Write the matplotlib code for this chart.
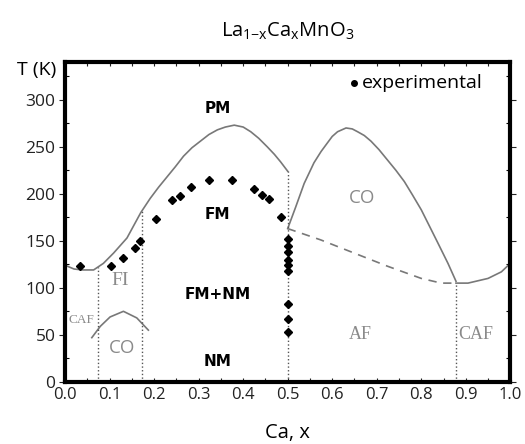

# La(1-x)Ca(x)MnO3 phase diagram
import numpy as np
import matplotlib
matplotlib.use('Agg')
import matplotlib.pyplot as plt

plt.rcParams['font.family'] = ['Open Sans', 'DejaVu Sans']
plt.rcParams['mathtext.default'] = 'regular'

# PM / FM boundary (solid)
pm_x = [0.0, 0.02, 0.04, 0.064, 0.086, 0.109, 0.139, 0.17, 0.191, 0.21,
        0.229, 0.248, 0.266, 0.285, 0.304, 0.323, 0.342, 0.36, 0.38, 0.40,
        0.417, 0.435, 0.454, 0.47, 0.484, 0.5]
pm_T = [124, 120, 119, 119, 126, 137, 153, 180, 195, 207,
        218, 229, 240, 249, 256, 263, 268, 271, 273, 271,
        266, 259, 250, 242, 234, 224]

# charge-ordered dome, x > 0.5 (solid)
co_x = [0.5, 0.518, 0.537, 0.559, 0.575, 0.589, 0.60, 0.612, 0.631, 0.645,
        0.657, 0.672, 0.687, 0.705, 0.724, 0.743, 0.762, 0.78, 0.80, 0.818,
        0.837, 0.86, 0.878]
co_T = [163, 186, 211, 233, 245, 254, 261, 266, 270, 269,
        266, 262, 256, 247, 236, 225, 213, 199, 183, 166,
        148, 126, 107]

# AF boundary (dashed)
af_x = [0.5, 0.574, 0.649, 0.724, 0.8, 0.845, 0.878]
af_T = [163, 151, 137, 123, 110, 105, 105]

# CAF boundary, right side
caf_x = [0.878, 0.905, 0.95, 0.98, 1.0]
caf_T = [105, 105, 110, 117, 126]

# small CO dome, low x
co2_x = [0.06, 0.079, 0.101, 0.131, 0.161, 0.187]
co2_T = [47, 59, 69, 75, 68, 55]

# dotted phase separators
sep_x = [0.075, 0.173, 0.5, 0.878]

# experimental points
exp_x = [0.033, 0.102, 0.131, 0.158, 0.169, 0.204, 0.241, 0.258, 0.283, 0.323,
         0.375, 0.424, 0.443, 0.457, 0.486, 0.5, 0.5, 0.5, 0.5, 0.5, 0.5, 0.5,
         0.5, 0.5]
exp_T = [123, 123, 132, 142, 150, 173, 193, 198, 207, 215,
         215, 205, 199, 194, 175, 152, 145, 138, 130, 124, 118, 83,
         67, 53]

fig = plt.figure(figsize=(5.25, 4.44), dpi=100)
ax = fig.add_axes([0.124, 0.14, 0.848, 0.72])

line_c = '#787878'
ax.plot(pm_x, pm_T, color=line_c, lw=1.2)
ax.plot(co_x, co_T, color=line_c, lw=1.2)
ax.plot(af_x, af_T, color=line_c, lw=1.2, ls=(0, (5, 4)))
ax.plot(caf_x, caf_T, color=line_c, lw=1.2)
ax.plot(co2_x, co2_T, color=line_c, lw=1.2)

# dotted verticals end on the boundary curves
sep_top = [np.interp(sep_x[0], pm_x, pm_T), np.interp(sep_x[1], pm_x, pm_T),
           pm_T[-1], af_T[-1]]
for xs, top in zip(sep_x, sep_top):
    ax.plot([xs, xs], [0, top], color='#555555', lw=1, ls=':')

ax.plot(exp_x, exp_T, 'D', color='black', ms=3.8)

# legend
ax.plot([0.65], [318], 'o', color='black', ms=4)
ax.text(0.666, 318, 'experimental', fontsize=14, va='center', ha='left')

# region labels
bold = dict(fontsize=11, fontweight='bold', ha='center', va='center',
            family=['DejaVu Sans'])
ax.text(0.342, 291, 'PM', **bold)
ax.text(0.342, 178, 'FM', **bold)
ax.text(0.342, 93, 'FM+NM', **bold)
ax.text(0.342, 22, 'NM', **bold)

grey = '#8a8a8a'
serif = ['Liberation Serif', 'DejaVu Serif']
ax.text(0.668, 196, 'CO', fontsize=13.5, color=grey, ha='center', va='center')
ax.text(0.128, 36, 'CO', fontsize=13.5, color=grey, ha='center', va='center')
ax.text(0.124, 108, 'FI', fontsize=14, color=grey, ha='center', va='center',
        family=serif)
ax.text(0.037, 66, 'CAF', fontsize=9.5, color=grey, ha='center', va='center',
        family=serif)
ax.text(0.664, 50, 'AF', fontsize=13, color=grey, ha='center', va='center',
        family=serif)
ax.text(0.922, 50, 'CAF', fontsize=13, color=grey, ha='center', va='center',
        family=serif)

ax.set_xlim(0, 1.0)
ax.set_ylim(0, 340)
ax.set_xticks(np.arange(0, 1.01, 0.1))
ax.set_xticks(np.arange(0, 1.01, 0.05), minor=True)
ax.set_xticklabels(['%.1f' % v for v in np.arange(0, 1.01, 0.1)])
ax.set_yticks(np.arange(0, 301, 50))
ax.set_yticks(np.arange(0, 340, 25), minor=True)

ax.tick_params(axis='x', which='both', direction='in', top=True, bottom=True,
               length=3, width=0.8, labelsize=12, pad=4, colors='#222222')
ax.tick_params(axis='y', which='major', direction='out', left=True, right=True,
               length=4, width=0.8, labelsize=12.5, pad=3, colors='#222222')
ax.tick_params(axis='y', which='minor', direction='in', left=True, right=True,
               length=3, width=0.8)

for s in ax.spines.values():
    s.set_linewidth(3)

ax.set_title('La$_{1{-}x}$Ca$_{x}$MnO$_{3}$', fontsize=14.5, pad=18)
ax.set_xlabel('Ca, x', fontsize=14.5)
ax.xaxis.set_label_coords(0.5, -0.13)
ax.text(-0.065, 0.975, 'T (K)', transform=ax.transAxes, fontsize=14,
        ha='center', va='center')

plt.savefig('out.png', dpi=100)
